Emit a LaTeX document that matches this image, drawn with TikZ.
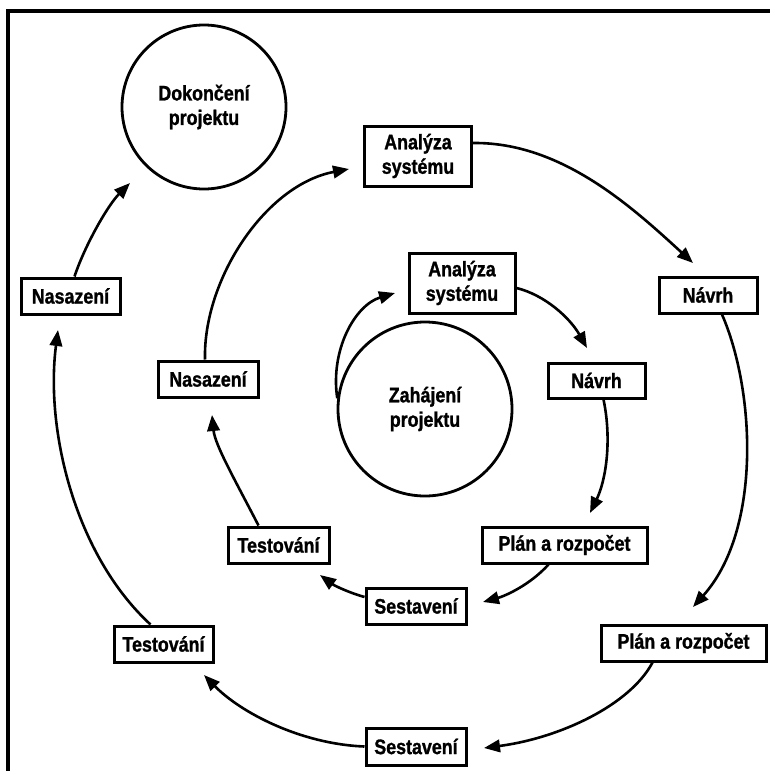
\documentclass[tikz,border=0pt]{standalone}
\usepackage{fontspec}
\newfontfamily\lblfont{Liberation Sans}[FakeStretch=0.85,FakeBold=1.2]
\usetikzlibrary{arrows.meta}
\begin{document}
\begin{tikzpicture}[x=1pt,y=-1pt,
  lbl/.style={font=\lblfont\bfseries\fontsize{21}{24.5}\selectfont, align=center, inner sep=0pt},
  box/.style={lbl, draw, line width=3pt, rectangle},
  ring/.style={lbl, draw, line width=2.8pt, circle},
  arr/.style={line width=2.6pt, -{Triangle[length=16pt,width=12.5pt]}},
  frame/.style={line width=3.4pt}]
\useasboundingbox (0,0) rectangle (770,771);
% frame
\coordinate (fTL) at (8,11);
\coordinate (fTR) at (770,11);
\coordinate (fBL) at (8,771);
\draw[frame] (fTR) -- (fTL) -- (fBL);

% circles
\node[ring, minimum size=164pt] (D) at (204,107) {Dokončení\\projektu};
\node[ring, minimum size=174pt] (Z) at (425,409) {Zahájení\\projektu};

% outer loop boxes
\node[box, minimum width=107pt, minimum height=60pt] (A1) at (418,156) {Analýza\\systému};
\node[box, minimum width=98pt, minimum height=36pt] (N1) at (708,295) {Návrh};
\node[box, minimum width=165pt, minimum height=36pt] (P1) at (683.5,643) {Plán a rozpočet};
\node[box, minimum width=100pt, minimum height=37pt] (S1) at (416,746.5) {Sestavení};
\node[box, minimum width=99pt, minimum height=36pt] (T1) at (163.5,644) {Testování};
\node[box, minimum width=99pt, minimum height=36pt] (Na1) at (70.5,296) {Nasazení};

% inner loop boxes
\node[box, minimum width=106pt, minimum height=60pt] (A2) at (462,283) {Analýza\\systému};
\node[box, minimum width=97pt, minimum height=35pt] (N2) at (596.5,380.5) {Návrh};
\node[box, minimum width=165pt, minimum height=36pt] (P2) at (564.5,545) {Plán a rozpočet};
\node[box, minimum width=100pt, minimum height=36pt] (S2) at (416,606) {Sestavení};
\node[box, minimum width=101pt, minimum height=36pt] (T2) at (278.5,545) {Testování};
\node[box, minimum width=100pt, minimum height=36pt] (Na2) at (208,379) {Nasazení};

% arrow end points
\coordinate (e1) at (693,263);
\coordinate (e2) at (693,607);
\coordinate (e3) at (484,748);
\coordinate (e4) at (204,675);
\coordinate (e5) at (58,330);
\coordinate (e6) at (130,183);
\coordinate (e7) at (349,169);
\coordinate (e8) at (395,293);
\coordinate (e9) at (587,348);
\coordinate (e10) at (590,513);
\coordinate (e11) at (483,602);
\coordinate (e12) at (320,575);
\coordinate (e13) at (212,415);

% outer loop
\draw[arr] ([yshift=13pt]A1.east) .. controls (560,142) and (630,205) .. (e1);
\draw[arr] ([xshift=14pt]N1.south) .. controls (755,390) and (762,530) .. (e2);
\draw[arr] ([xshift=-31pt]P1.south) .. controls (630,705) and (560,738) .. (e3);
\draw[arr] (S1.west) .. controls (300,744) and (240,712) .. (e4);
\draw[arr] ([xshift=-13pt]T1.north) .. controls (75,555) and (45,430) .. (e5);
\draw[arr] ([xshift=4pt]Na1.north) .. controls (85,245) and (108,205) .. (e6);

% inner loop
\draw[arr] ([xshift=-3pt]Na2.north) .. controls (203,280) and (265,185) .. (e7);
\draw[arr] (Z.173) .. controls (330,350) and (355,305) .. (e8);
\draw[arr] ([yshift=-5pt]A2.east) .. controls (545,295) and (570,318) .. (e9);
\draw[arr] ([xshift=7pt]N2.south) .. controls (612,440) and (606,480) .. (e10);
\draw[arr] ([xshift=-16pt]P2.south) .. controls (530,585) and (505,596) .. (e11);
\draw[arr] ([yshift=9pt]S2.west) .. controls (350,593) and (335,586) .. (e12);
\draw[arr] ([xshift=-20pt]T2.north) .. controls (235,480) and (215,445) .. (e13);
\end{tikzpicture}
\end{document}
